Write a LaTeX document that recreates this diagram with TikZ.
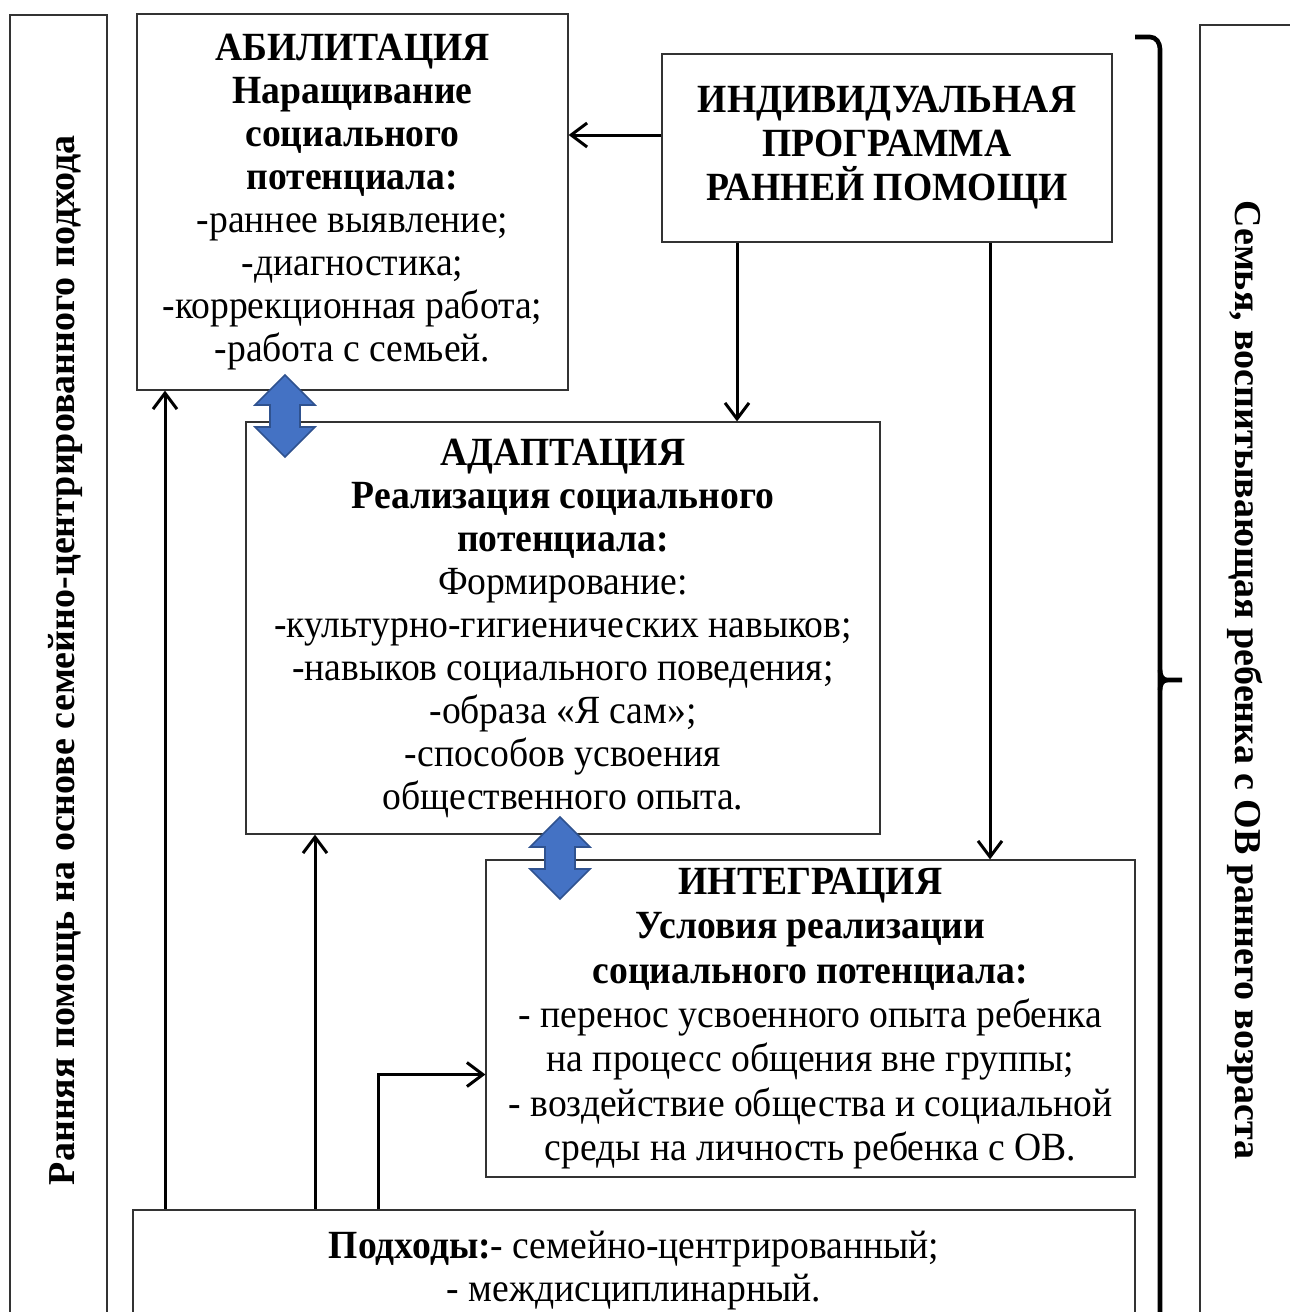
\documentclass[tikz,border=0pt]{standalone}
\usepackage{fontspec}
\setmainfont{Liberation Serif}
\newfontfamily\narrowfont{Liberation Serif}[FakeStretch=0.94]
\usetikzlibrary{arrows.meta}

\definecolor{bleu}{HTML}{4472C4}
\definecolor{bleufonce}{HTML}{2F528F}

\tikzset{
  bloc/.style={draw=black!80, line width=0.6pt, align=center, inner sep=0pt,
    font=\narrowfont\fontsize{20}{21.5}\selectfont},
  cote/.style={font=\bfseries\fontsize{19}{21}\selectfont},
  fleche/.style={line width=1.5pt, -{Straight Barb[length=8pt,width=12pt]}},
  dbl/.style={fill=bleu, draw=bleufonce, line width=0.8pt, line join=miter},
  accolade/.style={line width=2.3pt}
}

\begin{document}
\begin{tikzpicture}[x=0.5pt,y=-0.5pt]
  \useasboundingbox (0,0) rectangle (1290,1312);

  % Cadres lateraux
  \node[bloc, minimum width=48.5pt, minimum height=662.5pt] (gauche) at (58.5,677.5) {};
  \node[cote, rotate=90] (textegauche) at (65,660) {Ранняя помощь на основе семейно-центрированного подхода};
  \node[bloc, minimum width=50pt, minimum height=657.5pt] (droite) at (1250,682.5) {};
  \node[cote, rotate=-90] (textedroite) at (1245,680) {Семья, воспитывающая ребенка с ОВ раннего возраста};

  % Blocs
  \node[bloc, minimum width=215.5pt, minimum height=188pt] (abil) at (352.5,202)
    {\textbf{АБИЛИТАЦИЯ}\\\textbf{Наращивание}\\\textbf{социального}\\\textbf{потенциала:}\\
     -раннее выявление;\\-диагностика;\\-коррекционная работа;\\-работа с семьей.};
  \node[bloc, minimum width=225pt, minimum height=94pt,
    font=\narrowfont\fontsize{20}{22}\selectfont] (indiv) at (887,148)
    {\textbf{ИНДИВИДУАЛЬНАЯ}\\\textbf{ПРОГРАММА}\\\textbf{РАННЕЙ ПОМОЩИ}};
  \node[bloc, minimum width=317pt, minimum height=206pt] (adapt) at (563,628)
    {\textbf{АДАПТАЦИЯ}\\\textbf{Реализация социального}\\\textbf{потенциала:}\\Формирование:\\
     -культурно-гигиенических навыков;\\-навыков социального поведения;\\-образа «Я сам»;\\
     -способов усвоения\\общественного опыта.};
  \node[bloc, minimum width=324.5pt, minimum height=158.5pt,
    font=\narrowfont\fontsize{20}{22.2}\selectfont] (integ) at (810.5,1018.5)
    {\textbf{ИНТЕГРАЦИЯ}\\\textbf{Условия реализации}\\\textbf{социального потенциала:}\\
     - перенос усвоенного опыта ребенка\\на процесс общения вне группы;\\
     - воздействие общества и социальной\\среды на личность ребенка с ОВ.};
  \node[bloc, minimum width=501pt, minimum height=61pt] (podh) at (634,1271)
    {\textbf{Подходы:}- семейно-центрированный;\\- междисциплинарный.};

  % Fleches de la programme
  \draw[fleche] ([yshift=6.5pt]indiv.west) -- ([yshift=6.5pt]indiv.west -| abil.east);
  \draw[fleche] ([xshift=-75pt]indiv.south) -- ([xshift=-75pt]indiv.south |- adapt.north);
  \draw[fleche] ([xshift=51.5pt]indiv.south) -- ([xshift=51.5pt]indiv.south |- integ.north);

  % Fleches des approches
  \draw[fleche] ([xshift=-234.5pt]podh.north) -- ([xshift=-234.5pt]podh.north |- abil.south);
  \draw[fleche] ([xshift=-159.5pt]podh.north) -- ([xshift=-159.5pt]podh.north |- adapt.south);
  \draw[fleche] ([xshift=-128pt]podh.north) |- ([yshift=-28pt]integ.west);

  % Doubles fleches
  \foreach \cx/\cy in {285/416, 560/858} {
    \filldraw[dbl, shift={(\cx,\cy)}] (0,-41) -- (30,-11) -- (15,-11) -- (15,11) -- (30,11)
      -- (0,41) -- (-30,11) -- (-15,11) -- (-15,-11) -- (-30,-11) -- cycle;
  }

  % Accolade
  \draw[accolade] (1135,37) -- (1150,37) to[out=0,in=90] (1160,49) -- (1160,1330);
  \draw[accolade] (1160,670) to[out=-90,in=180] (1167,680) -- (1182,680);
  \draw[accolade] (1160,690) to[out=90,in=180] (1167,680);
\end{tikzpicture}
\end{document}
